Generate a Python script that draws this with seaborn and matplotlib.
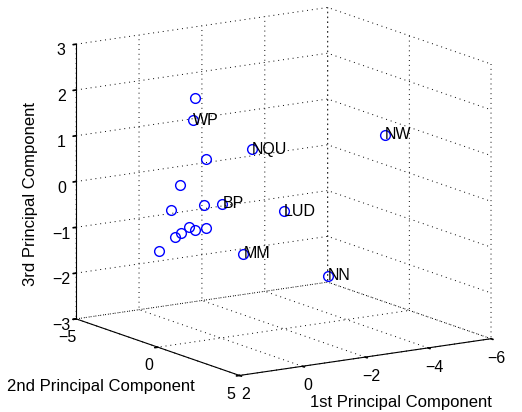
import numpy as np
import seaborn as sns
import matplotlib.pyplot as plt

# principal component scores
pc1 = [0.81, 0.87, 0.46, -1.52, -4.19, 1.29, 1.57, 0.52, -0.05, -1.50,
       1.52, 0.98, 1.33, 1.77, 1.44, 1.43, 0.32, -2.38]
pc2 = [0.0, 0.0, 0.0, -1.0, 2.0, 0.0, 0.0, 0.0, 0.0, 1.0,
       1.0, 1.0, 1.0, 1.0, 0.0, -1.0, 2.0, 2.0]
pc3 = [2.32, 1.84, 0.95, 0.85, 1.27, 0.48, -0.04, -0.04, -0.07, -0.26,
       -0.30, -0.37, -0.38, -0.40, -0.65, -1.08, -0.88, -1.63]
names = ["", "WP", "", "NQU", "NW", "", "", "", "BP", "LUD",
         "", "", "", "", "", "", "MM", "NN"]

x_ticks = [2, 0, -2, -4, -6]
y_ticks = [-5, 0, 5]
z_ticks = [-3, -2, -1, 0, 1, 2, 3]

sns.set_theme(style="white")
plt.rcParams["font.family"] = ["Liberation Sans", "DejaVu Sans"]
plt.rcParams["text.color"] = "black"
plt.rcParams["xtick.color"] = "black"
plt.rcParams["ytick.color"] = "black"
plt.rcParams["grid.linestyle"] = (0, (1, 4))
plt.rcParams["grid.color"] = "black"
plt.rcParams["grid.linewidth"] = 0.7

fig = plt.figure(figsize=(5.22, 4.12), dpi=100)
ax = fig.add_subplot(111, projection="3d", proj_type="ortho")
ax.set_position([0.0326, 0.0218, 1.0, 1.0])
ax.view_init(elev=13, azim=57)
ax.set_box_aspect((1, 1, 0.94), zoom=1.2)

ax.plot(pc1, pc2, pc3, linestyle="none", marker="o", markersize=7,
        markerfacecolor="none", markeredgecolor="blue", markeredgewidth=1)
for x, y, z, n in zip(pc1, pc2, pc3, names):
    if n:
        ax.text(x, y, z, n, fontsize=11.5, ha="left", va="center", color="black")

ax.set_xlim(-6, 2)
ax.set_ylim(-5, 5)
ax.set_zlim(-3, 3)
ax.set_xticks(x_ticks)
ax.set_yticks(y_ticks)
ax.set_zticks(z_ticks)
ax.set_xticklabels([str(t).replace("-", "\u2212") for t in x_ticks])
ax.set_yticklabels([str(t).replace("-", "\u2212") for t in y_ticks])
ax.set_zticklabels([str(t).replace("-", "\u2212") for t in z_ticks])
ax.tick_params(labelsize=11.5, pad=-2.5, colors="black")

for axis in (ax.xaxis, ax.yaxis, ax.zaxis):
    axis.set_pane_color((1, 1, 1, 0))
    axis.pane.set_edgecolor((1, 1, 1, 0))
    axis.line.set_color("black")
    axis.line.set_linewidth(0.8)
    axis._axinfo["tick"]["inward_factor"] = 0.15
    axis._axinfo["tick"]["outward_factor"] = 0.0
    # axis titles are placed as figure text below, so hide the built-in ones
    axis.label.set_visible(False)
    axis.offsetText.set_visible(False)

fig.text(0.013, 0.063, "2nd Principal Component", fontsize=12, ha="left", va="center")
fig.text(0.594, 0.022, "1st Principal Component", fontsize=12, ha="left", va="center")
fig.text(0.059, 0.53, "3rd Principal Component", fontsize=12, rotation=90,
         ha="center", va="center")

fig.savefig("out.png", dpi=100)
